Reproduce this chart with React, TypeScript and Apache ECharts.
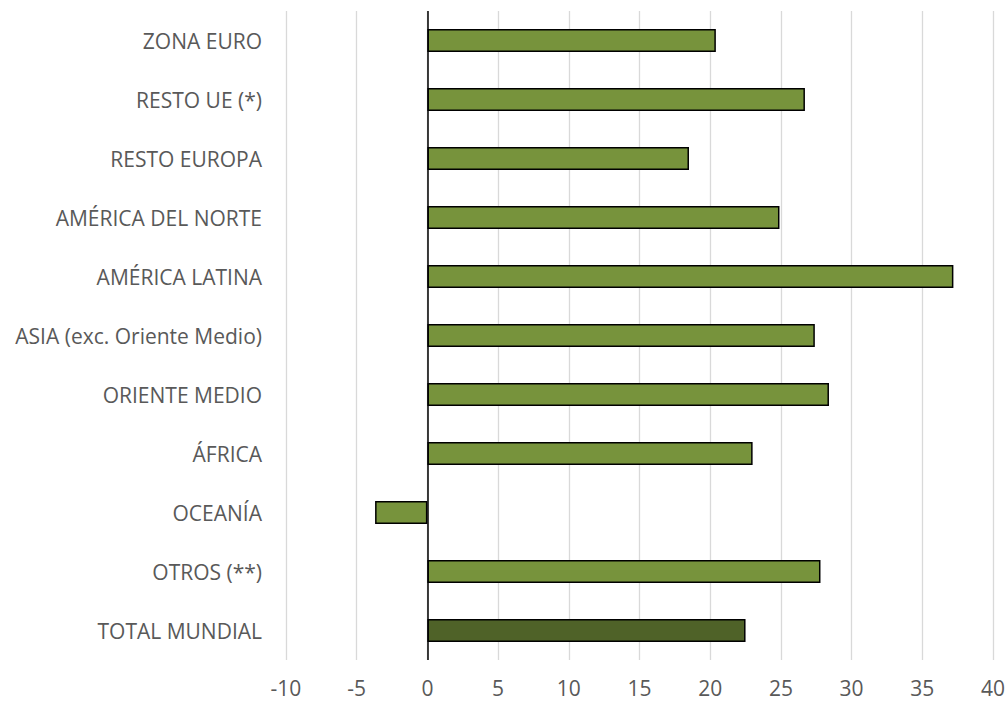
import React, { useEffect, useRef } from "react";
import * as echarts from "echarts";

const categories = [
  "ZONA EURO",
  "RESTO UE (*)",
  "RESTO EUROPA",
  "AMÉRICA DEL NORTE",
  "AMÉRICA LATINA",
  "ASIA (exc. Oriente Medio)",
  "ORIENTE MEDIO",
  "ÁFRICA",
  "OCEANÍA",
  "OTROS (**)",
  "TOTAL MUNDIAL",
];
const values = [20.4, 26.7, 18.5, 24.9, 37.2, 27.4, 28.4, 23.0, -3.7, 27.8, 22.5];
const highlightCategory = "TOTAL MUNDIAL";

export default function App() {
  const ref = useRef<HTMLDivElement>(null);
  useEffect(() => {
    if (!ref.current) return;
    const chart = echarts.init(ref.current, undefined, { renderer: "svg" });
    const font = "'Open Sans', 'Noto Sans', sans-serif";
    chart.setOption({
      animation: false,
      grid: { left: 286, right: 14, top: 11, bottom: 42, containLabel: false },
      xAxis: {
        type: "value",
        min: -10,
        max: 40,
        interval: 5,
        axisLine: { show: false },
        axisTick: { show: false },
        axisLabel: { color: "#595959", fontSize: 21, fontFamily: font, margin: 17 },
        splitLine: { show: true, lineStyle: { color: "#d9d9d9", width: 1.3 } },
      },
      yAxis: {
        type: "category",
        data: categories,
        inverse: true,
        axisLine: { show: false },
        axisTick: { show: false },
        axisLabel: { color: "#595959", fontSize: 21, fontFamily: font, margin: 24 },
        splitLine: { show: false },
      },
      series: [
        {
          type: "bar",
          data: values.map((v, i) => ({
            value: v,
            itemStyle: {
              color: categories[i] === highlightCategory ? "#4F6228" : "#77933C",
            },
          })),
          barWidth: 23,
          itemStyle: { borderColor: "#000", borderWidth: 1.5 },
          markLine: {
            silent: true,
            symbol: "none",
            label: { show: false },
            lineStyle: { color: "#000", width: 1.5, type: "solid" },
            data: [{ xAxis: 0 }],
          },
        },
      ],
    });
    return () => chart.dispose();
  }, []);
  return (
    <div
      ref={ref}
      style={{ position: "absolute", left: 0, top: 0, width: 1008, height: 702 }}
    />
  );
}
